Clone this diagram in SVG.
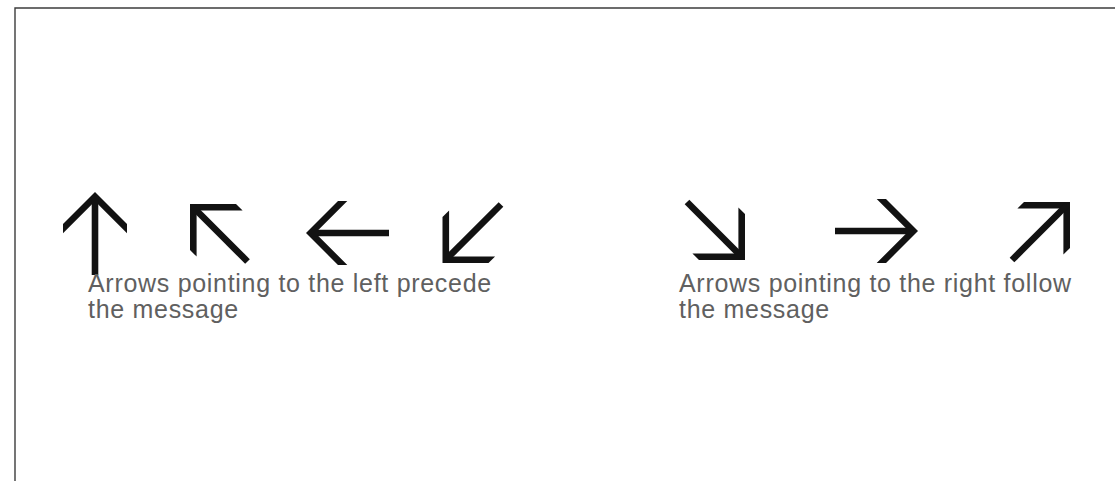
<svg xmlns="http://www.w3.org/2000/svg" width="1115" height="481" viewBox="0 0 1115 481">
  <style>
    .frame { fill: none; stroke: #3c3c3c; stroke-width: 1.4; }
    .head { fill: #121212; }
    .shaft { stroke: #121212; stroke-width: 6.6; stroke-linecap: butt; fill: none; }
    .label { font-family: "Liberation Sans", Arial, sans-serif; font-size: 25px; letter-spacing: 0.7px; fill: #606060; }
  </style>
  <rect x="0" y="0" width="1115" height="481" fill="#ffffff"/>
  <path class="frame" d="M15,481 V8 H1115"/>

  <g id="arrow-up">
    <polygon class="head" points="95,192 127,224 127,233.3 95,201.3 63,233.3 63,224"/>
    <line class="shaft" x1="95" y1="196" x2="95" y2="275"/>
  </g>
  <g id="arrow-up-left">
    <polygon class="head" points="190,204 236,204 242.6,210.6 196.6,210.6 196.6,256.6 190,250"/>
    <line class="shaft" x1="193" y1="207" x2="247.5" y2="261.5"/>
  </g>
  <g id="arrow-left">
    <polygon class="head" points="306,233 338,201 347.3,201 315.3,233 347.3,265 338,265"/>
    <line class="shaft" x1="310" y1="233" x2="389" y2="233"/>
  </g>
  <g id="arrow-down-left">
    <polygon class="head" points="442.5,263 488.5,263 495.1,256.4 449.1,256.4 449.1,210.4 442.5,217"/>
    <line class="shaft" x1="445.5" y1="260" x2="501" y2="204.5"/>
  </g>
  <g id="arrow-down-right">
    <polygon class="head" points="745,260 699,260 692.4,253.4 738.4,253.4 738.4,207.4 745,214"/>
    <line class="shaft" x1="742" y1="257" x2="687" y2="202"/>
  </g>
  <g id="arrow-right">
    <polygon class="head" points="918,231 886,199 876.7,199 908.7,231 876.7,263 886,263"/>
    <line class="shaft" x1="835" y1="231" x2="914" y2="231"/>
  </g>
  <g id="arrow-up-right">
    <polygon class="head" points="1070,202 1024,202 1017.4,208.6 1063.4,208.6 1063.4,254.6 1070,248"/>
    <line class="shaft" x1="1067" y1="205" x2="1012" y2="260"/>
  </g>

  <g id="caption-left">
    <text class="label" x="88" y="292">Arrows pointing to the left precede</text>
    <text class="label" x="88" y="318">the message</text>
  </g>
  <g id="caption-right">
    <text class="label" x="679" y="292">Arrows pointing to the right follow</text>
    <text class="label" x="679" y="318">the message</text>
  </g>
  <g id="connectors"/>
</svg>
